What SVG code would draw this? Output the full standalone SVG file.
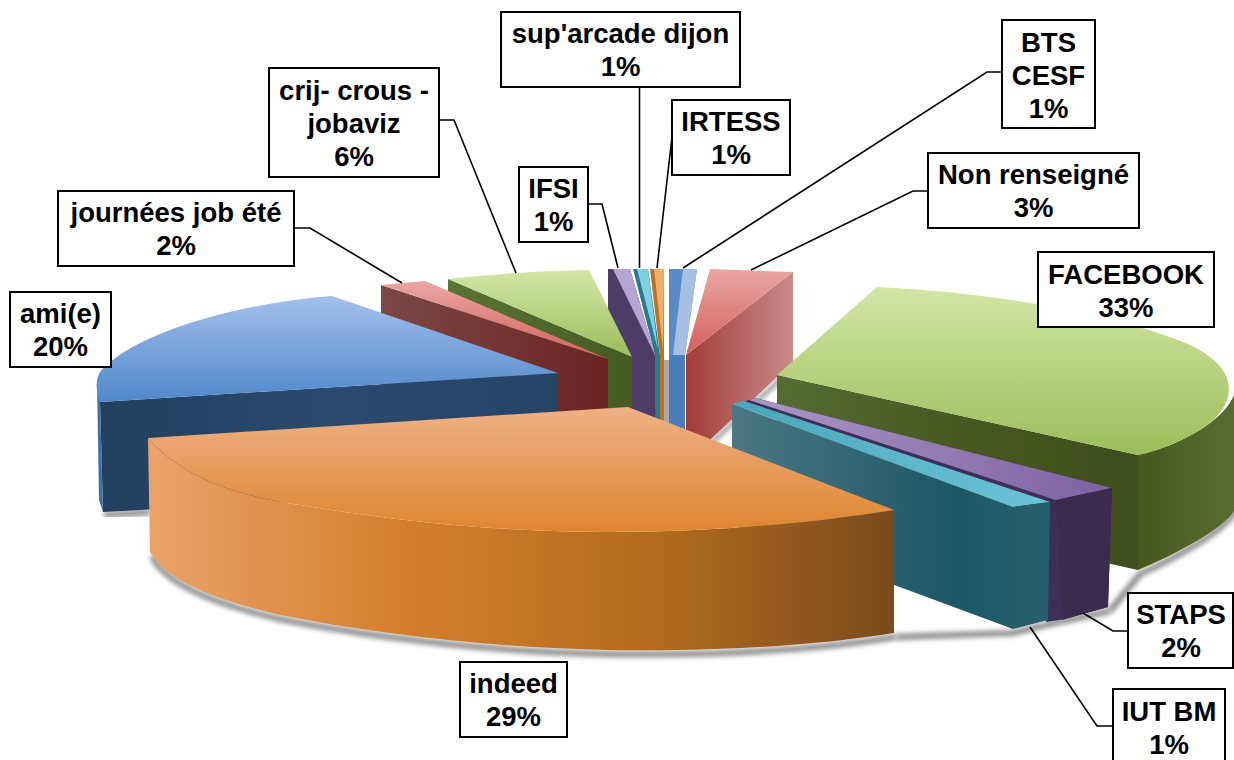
<svg xmlns="http://www.w3.org/2000/svg" width="1234" height="760" viewBox="0 0 1234 760">
<style>
.lbl rect{fill:#fff;stroke:#000;stroke-width:2}
.lbl text{font-family:"Liberation Sans",Arial,sans-serif;font-weight:bold;font-size:27.5px;fill:#000;text-anchor:middle}
#connectors polyline{fill:none;stroke:#000;stroke-width:1.6}
.shadow{fill:none;stroke:#8a8a8a;stroke-width:6;filter:url(#blur)}
</style>
<defs>
<filter id="blur" x="-10%" y="-50%" width="120%" height="200%"><feGaussianBlur stdDeviation="2.5"/></filter>
<linearGradient id="blueTop" x1="0" y1="0" x2="0" y2="1"><stop offset="0" stop-color="#a3c0ea"/><stop offset="1" stop-color="#4f88cc"/></linearGradient>
<linearGradient id="blueCut" x1="0" y1="0" x2="1" y2="0"><stop offset="0" stop-color="#22405f"/><stop offset="0.5" stop-color="#2a4a6e"/><stop offset="1" stop-color="#264566"/></linearGradient>
<linearGradient id="orTop" x1="0" y1="0" x2="0" y2="1"><stop offset="0" stop-color="#eeb186"/><stop offset="1" stop-color="#df8530"/></linearGradient>
<linearGradient id="orSide" x1="0" y1="0" x2="1" y2="0"><stop offset="0" stop-color="#eaa36a"/><stop offset="0.35" stop-color="#d47e2c"/><stop offset="0.7" stop-color="#b06a1e"/><stop offset="1" stop-color="#7a4a1c"/></linearGradient>
<linearGradient id="grTop" x1="0" y1="0" x2="0" y2="1"><stop offset="0" stop-color="#d3e6a6"/><stop offset="1" stop-color="#9cbd5a"/></linearGradient>
<linearGradient id="grCut" x1="0" y1="0" x2="1" y2="0"><stop offset="0" stop-color="#5c7436"/><stop offset="1" stop-color="#465a22"/></linearGradient>
<linearGradient id="fbCut" x1="0" y1="0" x2="1" y2="0"><stop offset="0" stop-color="#566a34"/><stop offset="0.6" stop-color="#45561f"/><stop offset="1" stop-color="#3e4e1c"/></linearGradient>
<linearGradient id="fbOut" x1="0" y1="0" x2="1" y2="0"><stop offset="0" stop-color="#46581f"/><stop offset="1" stop-color="#5a6d30"/></linearGradient>
<linearGradient id="rdTop" x1="0" y1="0" x2="0" y2="1"><stop offset="0" stop-color="#eaa6a4"/><stop offset="1" stop-color="#d4605c"/></linearGradient>
<linearGradient id="rdCutJ" x1="0" y1="0" x2="1" y2="0"><stop offset="0" stop-color="#7d4846"/><stop offset="1" stop-color="#6a2422"/></linearGradient>
<linearGradient id="rdCutN" x1="0" y1="0" x2="1" y2="0"><stop offset="0" stop-color="#a23c39"/><stop offset="1" stop-color="#c88b8a"/></linearGradient>
<linearGradient id="tlCut" x1="0" y1="0" x2="1" y2="0"><stop offset="0" stop-color="#4c7784"/><stop offset="0.8" stop-color="#1c5766"/><stop offset="1" stop-color="#235e6d"/></linearGradient>
<linearGradient id="tlTop" x1="0" y1="0" x2="1" y2="0"><stop offset="0" stop-color="#4aa6bd"/><stop offset="1" stop-color="#6cc3d8"/></linearGradient>
<linearGradient id="puTop" x1="0" y1="0" x2="1" y2="0"><stop offset="0" stop-color="#a996c4"/><stop offset="1" stop-color="#7e62a2"/></linearGradient>
</defs>
<rect width="1234" height="760" fill="#fff"/>

<g id="shadows">
<path class="shadow" d="M152,556 C165,584 215,604 280,619 C380,639 500,652 608,654 C720,656 820,649 896,637"/>
<path class="shadow" d="M896,637 L1013,633 L1050,624 L1110,611"/>
<path class="shadow" d="M1110,611 L1140,574 C1180,556 1225,530 1236,510"/>
<path class="shadow" d="M104,515 L150,512"/>
<path class="shadow" d="M795,366 L712,442" style="stroke-width:4"/>
<rect x="664" y="360" width="7" height="70" fill="#a9a9a9"/>
</g>

<g id="slice-bts-cesf">
<polygon points="669,269 697,269 685,355 685,470 669,470" fill="#5a8bc9"/>
<polygon points="683,269 697,269 685,355 673,355" fill="#a6bfe3"/>
<polygon points="669,355 685,355 685,470 669,470" fill="#4b7cbb"/>
</g>
<g id="slice-irtess">
<polygon points="650,269 664,269 664,470 660,470 660,355" fill="#b8732a"/>
<polygon points="654,269 664,269 663,350" fill="#f2ae66"/>
</g>
<g id="slice-suparcade">
<polygon points="633,269 648,269 660,355 660,470 655,470 655,355" fill="#2b7a8b"/>
<polygon points="637,269 648,269 658,350" fill="#7fd0e2"/>
</g>
<g id="slice-ifsi">
<polygon points="608,269 630,269 655,355 655,470 608,470" fill="#4d3d68"/>
<polygon points="613,269 630,269 655,355" fill="#b6a4d3"/>
</g>
<g id="slice-crij">
<polygon points="448,279 632,357 632,472 448,394" fill="url(#grCut)"/>
<path d="M448,279 C490,274 540,271 589,270 L632,357 Z" fill="url(#grTop)"/>
</g>
<g id="slice-journees">
<polygon points="381,285 608,359 608,474 381,400" fill="url(#rdCutJ)"/>
<polygon points="381,285 425,281 608,359" fill="url(#rdTop)"/>
</g>
<g id="slice-ami">
<polygon points="100,402 558,373 558,488 103,512" fill="url(#blueCut)"/>
<polygon points="97,378 100,402 103,512 99,500" fill="#3f6fa8"/>
<path d="M558,373 L332,296 C230,304 130,336 100,372 C95,380 96,392 100,402 Z" fill="url(#blueTop)"/>
</g>
<g id="slice-non-renseigne">
<polygon points="686,355 793,272 793,362 712,438 686,463" fill="url(#rdCutN)"/>
<polygon points="710,269 793,272 686,355" fill="url(#rdTop)"/>
</g>
<g id="slice-facebook">
<polygon points="777,375 1138,455 1138,570 777,490" fill="url(#fbCut)"/>
<path d="M1138,455 C1160,450 1180,442 1200,430 C1225,414 1236,398 1236,385 L1236,508 C1225,528 1180,552 1138,570 Z" fill="url(#fbOut)"/>
<path d="M777,375 L877,287 C1000,293 1120,315 1190,345 C1240,368 1240,405 1200,430 C1180,442 1160,450 1138,455 Z" fill="url(#grTop)"/>
</g>
<g id="slice-staps">
<polygon points="743,402 755,398 1112,488 1108,607 1060,620 1046,622 1046,502" fill="#3f2f58"/>
<polygon points="749,400 755,398 1112,488 1056,500" fill="url(#puTop)"/>
<polygon points="1056,500 1112,488 1108,607 1062,620" fill="#3b2b4e"/>
</g>
<g id="slice-iut-bm">
<polygon points="732,404 1013,507 1013,629 732,525" fill="url(#tlCut)"/>
<polygon points="732,404 744,401 1050,502 1013,507" fill="url(#tlTop)"/>
<polygon points="1013,507 1050,502 1048,620 1013,629" fill="#265e6c"/>
</g>
<g id="slice-indeed">
<path d="M148,438 C180,475 230,495 300,505 C420,525 520,532 608,532 C720,532 820,522 894,510 L894,633 C820,645 720,652 608,650 C500,648 380,635 280,615 C215,600 165,580 150,552 Z" fill="url(#orSide)"/>
<path d="M628,407 L148,438 C180,475 230,495 300,505 C420,525 520,532 608,532 C720,532 820,522 894,510 Z" fill="url(#orTop)"/>
</g>

<g id="connectors">
<polyline points="639.5,87 639.5,268"/>
<polyline points="672,137 657,268"/>
<polyline points="588,204 602,204 618,268"/>
<polyline points="439,120 454,120 516,273"/>
<polyline points="294,228 310,228 402,283"/>
<polyline points="1002,72 987,72 683,268"/>
<polyline points="928,191 913,191 751,270"/>
<polyline points="1128,631 1113,631 1083,613"/>
<polyline points="1113,726 1097,726 1030,627"/>
</g>

<g id="label-suparcade" class="lbl"><rect x="501" y="12" width="239" height="75"/><text x="620.5" y="43">sup'arcade dijon</text><text x="620.5" y="76">1%</text></g>
<g id="label-irtess" class="lbl"><rect x="672" y="100" width="118" height="75"/><text x="731" y="131">IRTESS</text><text x="731" y="164">1%</text></g>
<g id="label-ifsi" class="lbl"><rect x="519" y="167" width="69" height="75"/><text x="553.5" y="198">IFSI</text><text x="553.5" y="231">1%</text></g>
<g id="label-crij" class="lbl"><rect x="269" y="68" width="170" height="109"/><text x="354" y="100">crij- crous -</text><text x="354" y="133">jobaviz</text><text x="354" y="166">6%</text></g>
<g id="label-journees" class="lbl"><rect x="58" y="191" width="236" height="75"/><text x="176" y="222">journées job été</text><text x="176" y="255">2%</text></g>
<g id="label-ami" class="lbl"><rect x="10" y="292" width="101" height="75"/><text x="60.5" y="323">ami(e)</text><text x="60.5" y="356">20%</text></g>
<g id="label-bts" class="lbl"><rect x="1002" y="20" width="93" height="108"/><text x="1048.5" y="52">BTS</text><text x="1048.5" y="85">CESF</text><text x="1048.5" y="118">1%</text></g>
<g id="label-non-renseigne" class="lbl"><rect x="928" y="153" width="211" height="75"/><text x="1033.5" y="184">Non renseigné</text><text x="1033.5" y="217">3%</text></g>
<g id="label-facebook" class="lbl"><rect x="1038" y="252" width="176" height="75"/><text x="1126" y="284">FACEBOOK</text><text x="1126" y="317">33%</text></g>
<g id="label-indeed" class="lbl"><rect x="460" y="662" width="107" height="75"/><text x="513.5" y="693">indeed</text><text x="513.5" y="726">29%</text></g>
<g id="label-staps" class="lbl"><rect x="1128" y="593" width="105" height="75"/><text x="1181" y="624">STAPS</text><text x="1181" y="657">2%</text></g>
<g id="label-iut-bm" class="lbl"><rect x="1113" y="689" width="112" height="75"/><text x="1169" y="721">IUT BM</text><text x="1169" y="754">1%</text></g>
</svg>
